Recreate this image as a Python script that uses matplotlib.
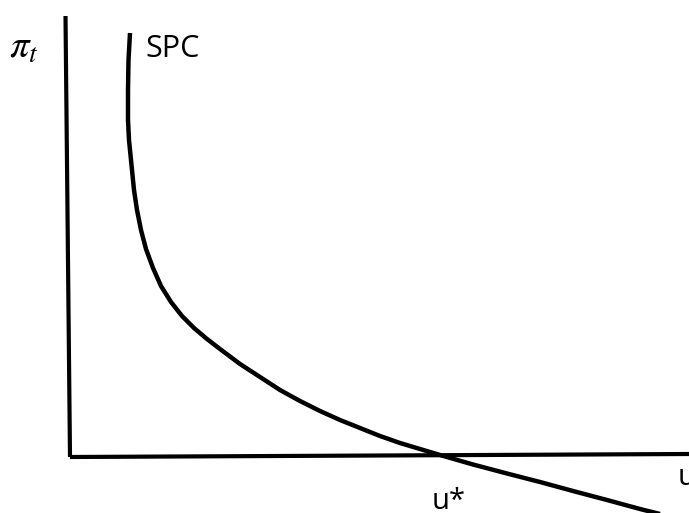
import numpy as np
import matplotlib.pyplot as plt

# short-run Phillips curve (u, pi with origin at the axes corner)
spc_u = [60, 58.5, 58, 58, 59, 60, 62, 64, 67, 71, 76, 83, 91, 101, 112, 124,
         137, 150, 170, 190, 210, 230, 250, 270, 290, 310, 330, 350, 370, 403,
         437, 470, 503, 537, 570, 630]
spc_pi = [424, 397, 367, 337, 317, 307, 287, 267, 247, 227, 208, 189, 171, 155,
          141, 129, 118, 108, 93, 80, 67, 56, 46, 37, 29, 21, 14, 8, 2, -7.5,
          -16.5, -25, -34, -43, -52, -67]

# hand-drawn axes
yaxis_u = [-4.5, 0]
yaxis_pi = [441, 0]
xaxis_u = [0, 619]
xaxis_pi = [0, 3]

curve_label = "SPC"
y_label = r"$\pi_t$"
x_label = "u"
natural_label = "u*"


def main():
    plt.rcParams['mathtext.fontset'] = 'stix'

    fig = plt.figure(figsize=(6.89, 5.13), dpi=100)
    ax = fig.add_axes([0, 0, 1, 1])
    ax.set_xlim(-70, 619)
    ax.set_ylim(-56, 457)
    ax.axis('off')

    ax.plot(yaxis_u, yaxis_pi, color='black', lw=3.0, solid_capstyle='butt')
    ax.plot(xaxis_u, xaxis_pi, color='black', lw=3.0, solid_capstyle='butt')
    ax.plot(spc_u, spc_pi, color='black', lw=3.2, solid_joinstyle='round',
            solid_capstyle='butt')

    ax.text(-61, 410, y_label, fontsize=28, ha='left', va='center')
    ax.text(75, 408, curve_label, family='Open Sans', fontsize=22,
            ha='left', va='center')
    ax.text(362, -52, natural_label, family='Open Sans', fontsize=21,
            ha='left', va='baseline')
    ax.text(608, -28, x_label, family='Open Sans', fontsize=21,
            ha='left', va='baseline')

    fig.savefig('out.png', dpi=100)


main()
